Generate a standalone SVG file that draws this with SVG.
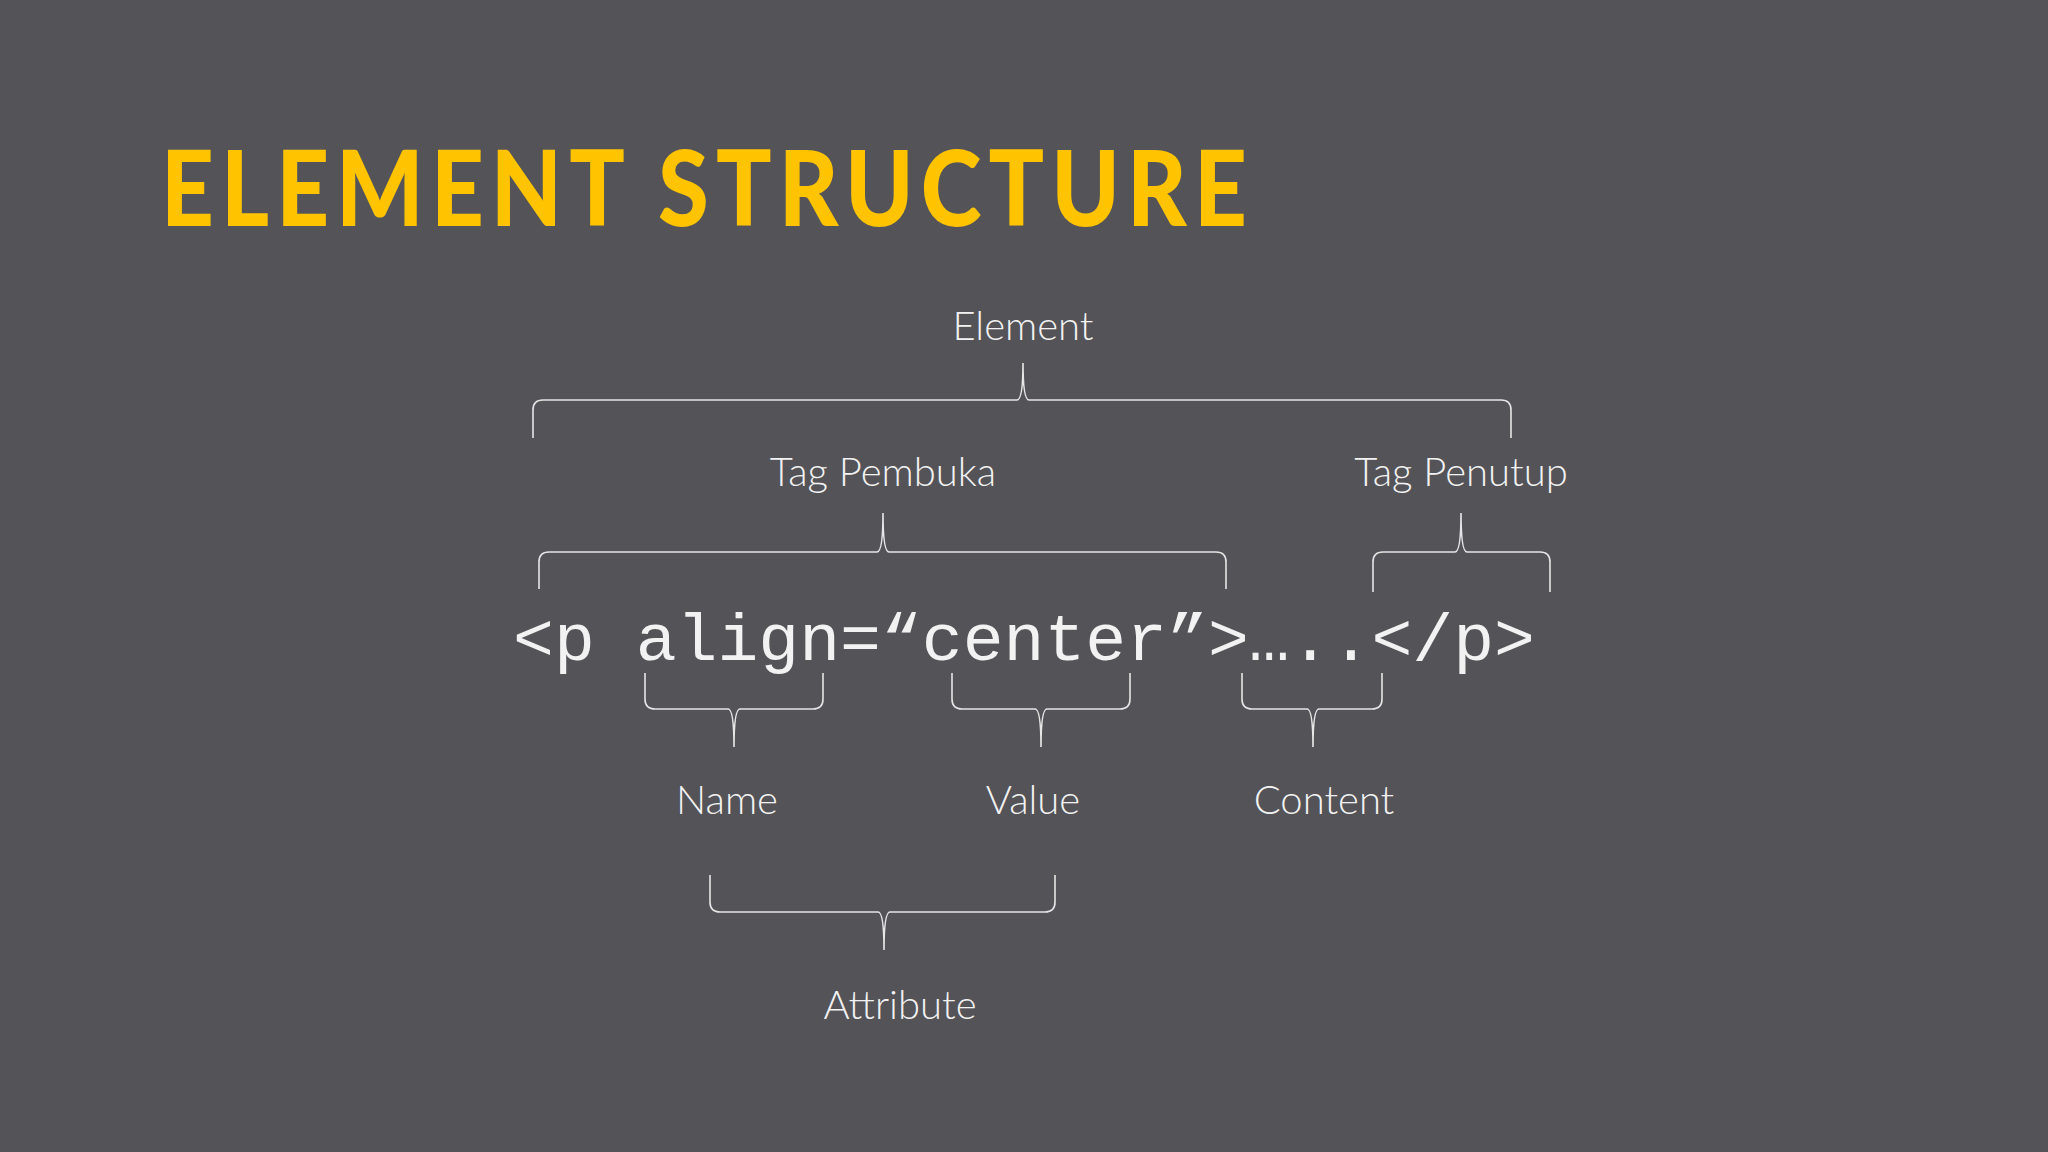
<svg xmlns="http://www.w3.org/2000/svg" width="2048" height="1152" viewBox="0 0 2048 1152">
<style>
.lbl{font-family:Lato,"Open Sans",sans-serif;font-weight:300;font-size:40px;fill:#f2f2f2;text-anchor:middle}
.br{fill:none;stroke:#e6e6e6;stroke-width:1.6}
</style>
<rect width="2048" height="1152" fill="#535358"/>
<text x="161" y="226" font-family="Lato,'Liberation Sans',sans-serif" font-weight="900" font-size="104" fill="#FFC300" letter-spacing="8" textLength="1093" lengthAdjust="spacingAndGlyphs">ELEMENT  STRUCTURE</text>
<g id="code"><text x="513" y="660" font-family="'Liberation Mono','Courier New',monospace" font-size="66" fill="#f2f2f2" textLength="1022" lengthAdjust="spacingAndGlyphs">&lt;p align=“center”&gt;…..&lt;/p&gt;</text></g>
<g id="element"><text class="lbl" x="1023" y="340">Element</text></g>
<g id="tagpembuka"><text class="lbl" x="883" y="486">Tag Pembuka</text></g>
<g id="tagpenutup"><text class="lbl" x="1461" y="486">Tag Penutup</text></g>
<g id="name"><text class="lbl" x="727" y="814">Name</text></g>
<g id="value"><text class="lbl" x="1033" y="814">Value</text></g>
<g id="content"><text class="lbl" x="1324" y="814">Content</text></g>
<g id="attribute"><text class="lbl" x="900" y="1019">Attribute</text></g>
<g id="connectors">
<path class="br" d="M533,438 L533,410 Q533,400 543,400 L1017,400 Q1023,400 1023,363 Q1023,400 1029,400 L1501,400 Q1511,400 1511,410 L1511,438"/>
<path class="br" d="M539,589 L539,562 Q539,552 549,552 L877,552 Q883,552 883,513 Q883,552 889,552 L1216,552 Q1226,552 1226,562 L1226,589"/>
<path class="br" d="M1373,592 L1373,562 Q1373,552 1383,552 L1455,552 Q1461,552 1461,513 Q1461,552 1467,552 L1540,552 Q1550,552 1550,562 L1550,592"/>
<path class="br" d="M645,673 L645,699 Q645,709 655,709 L728,709 Q734,709 734,747 Q734,709 740,709 L813,709 Q823,709 823,699 L823,673"/>
<path class="br" d="M952,673 L952,699 Q952,709 962,709 L1035,709 Q1041,709 1041,747 Q1041,709 1047,709 L1120,709 Q1130,709 1130,699 L1130,673"/>
<path class="br" d="M1242,673 L1242,699 Q1242,709 1252,709 L1307,709 Q1313,709 1313,747 Q1313,709 1319,709 L1372,709 Q1382,709 1382,699 L1382,673"/>
<path class="br" d="M710,875 L710,902 Q710,912 720,912 L878,912 Q884,912 884,950 Q884,912 890,912 L1045,912 Q1055,912 1055,902 L1055,875"/>
</g>
</svg>
